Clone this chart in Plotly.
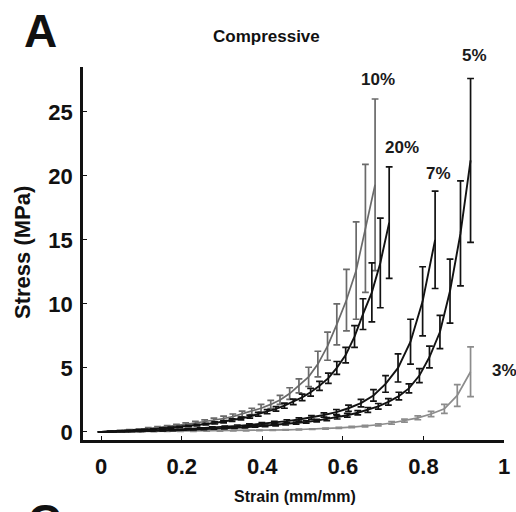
import plotly.graph_objects as go

# ---------------- data ----------------
strain_10 = [0, 0.023, 0.047, 0.070, 0.094, 0.117, 0.140, 0.164, 0.187, 0.210,
             0.234, 0.257, 0.280, 0.304, 0.327, 0.350, 0.374, 0.397, 0.421, 0.444,
             0.468, 0.491, 0.515, 0.538, 0.562, 0.585, 0.609, 0.633, 0.656, 0.680]
stress_10 = [0, 0.04, 0.09, 0.14, 0.2, 0.27, 0.34, 0.42, 0.5, 0.6,
             0.7, 0.8, 0.92, 1.05, 1.2, 1.4, 1.6, 1.85, 2.15, 2.5,
             3.0, 3.6, 4.3, 5.3, 6.7, 8.4, 10.3, 12.6, 15.9, 19.3]
err_10 = [0, 0.02, 0.03, 0.04, 0.05, 0.06, 0.07, 0.08, 0.09, 0.1,
          0.12, 0.14, 0.16, 0.18, 0.2, 0.22, 0.25, 0.3, 0.32, 0.35,
          0.45, 0.55, 0.75, 1.0, 1.1, 1.6, 2.4, 3.8, 5.0, 6.7]

strain_20 = [0, 0.022, 0.043, 0.065, 0.087, 0.108, 0.130, 0.152, 0.173, 0.195,
             0.217, 0.238, 0.260, 0.282, 0.304, 0.325, 0.347, 0.369, 0.390, 0.412,
             0.434, 0.455, 0.477, 0.499, 0.520, 0.542, 0.564, 0.585, 0.607, 0.629,
             0.650, 0.672, 0.693, 0.715]
stress_20 = [0, 0.03, 0.06, 0.09, 0.13, 0.17, 0.22, 0.27, 0.33, 0.39,
             0.46, 0.53, 0.61, 0.7, 0.8, 0.92, 1.05, 1.2, 1.38, 1.58,
             1.8, 2.05, 2.35, 2.7, 3.1, 3.6, 4.2, 5.0, 6.0, 7.45,
             9.2, 10.9, 13.2, 16.35]
err_20 = [0, 0.01, 0.01, 0.02, 0.02, 0.03, 0.03, 0.04, 0.04, 0.05,
          0.05, 0.06, 0.07, 0.08, 0.09, 0.1, 0.11, 0.12, 0.14, 0.16,
          0.18, 0.2, 0.22, 0.25, 0.3, 0.35, 0.4, 0.5, 0.6, 0.85,
          1.2, 2.3, 3.5, 4.35]

strain_7 = [0, 0.031, 0.061, 0.092, 0.123, 0.154, 0.184, 0.215, 0.246, 0.276,
            0.307, 0.338, 0.368, 0.399, 0.430, 0.461, 0.491, 0.522, 0.553, 0.584,
            0.614, 0.645, 0.676, 0.706, 0.737, 0.768, 0.798, 0.829]
stress_7 = [0, 0.02, 0.04, 0.07, 0.1, 0.14, 0.18, 0.23, 0.28, 0.34,
            0.4, 0.47, 0.55, 0.63, 0.73, 0.84, 0.97, 1.13, 1.32, 1.55,
            1.85, 2.25, 2.85, 3.75, 5.0, 7.05, 10.2, 15.0]
err_7 = [0, 0.01, 0.01, 0.02, 0.02, 0.03, 0.03, 0.04, 0.04, 0.05,
         0.06, 0.07, 0.08, 0.09, 0.1, 0.11, 0.13, 0.15, 0.17, 0.2,
         0.25, 0.3, 0.45, 0.65, 1.1, 1.75, 2.7, 3.8]

strain_5 = [0, 0.025, 0.051, 0.076, 0.102, 0.127, 0.153, 0.178, 0.204, 0.229,
            0.255, 0.280, 0.306, 0.331, 0.357, 0.382, 0.407, 0.433, 0.458, 0.484,
            0.509, 0.535, 0.560, 0.586, 0.611, 0.637, 0.662, 0.688, 0.713, 0.739,
            0.764, 0.790, 0.815, 0.841, 0.866, 0.892, 0.917]
stress_5 = [0, 0.01, 0.03, 0.04, 0.06, 0.08, 0.1, 0.12, 0.15, 0.18,
            0.21, 0.24, 0.28, 0.32, 0.37, 0.42, 0.48, 0.54, 0.61, 0.69,
            0.78, 0.88, 1.0, 1.14, 1.3, 1.5, 1.72, 2.0, 2.35, 2.8,
            3.4, 4.4, 5.85, 7.8, 11.0, 15.5, 21.2]
err_5 = [0, 0.01, 0.01, 0.01, 0.01, 0.01, 0.02, 0.02, 0.02, 0.03,
         0.03, 0.03, 0.04, 0.04, 0.05, 0.05, 0.06, 0.06, 0.07, 0.08,
         0.09, 0.1, 0.12, 0.13, 0.15, 0.17, 0.19, 0.22, 0.25, 0.3,
         0.35, 0.55, 0.85, 1.3, 2.5, 4.1, 6.4]

strain_3 = [0, 0.033, 0.066, 0.098, 0.131, 0.164, 0.197, 0.229, 0.262, 0.295,
            0.328, 0.360, 0.393, 0.426, 0.458, 0.491, 0.524, 0.557, 0.590, 0.622,
            0.655, 0.688, 0.721, 0.753, 0.786, 0.819, 0.852, 0.884, 0.917]
stress_3 = [0, 0.01, 0.02, 0.02, 0.03, 0.04, 0.05, 0.06, 0.07, 0.08,
            0.09, 0.1, 0.12, 0.14, 0.16, 0.19, 0.22, 0.26, 0.31, 0.38,
            0.46, 0.56, 0.7, 0.88, 1.1, 1.4, 1.8, 2.85, 4.7]
err_3 = [0, 0, 0, 0, 0, 0, 0, 0.01, 0.01, 0.01,
         0.01, 0.01, 0.02, 0.02, 0.02, 0.03, 0.03, 0.04, 0.04, 0.05,
         0.06, 0.08, 0.1, 0.12, 0.15, 0.2, 0.35, 0.85, 1.95]

x_tick_vals = [0, 0.2, 0.4, 0.6, 0.8, 1]
x_tick_text = ["0", "0.2", "0.4", "0.6", "0.8", "1"]
y_tick_vals = [0, 5, 10, 15, 20, 25]
y_tick_text = ["0", "5", "10", "15", "20", "25"]

# percentage tags: (text, strain, stress)
label_text = ["10%", "20%", "7%", "5%", "3%"]
label_x = [0.687, 0.748, 0.837, 0.926, 1.0]
label_y = [27.5, 22.2, 20.2, 29.4, 4.8]

# ---------------- figure ----------------
FONT = "Liberation Sans, Arial, sans-serif"
GRAY_DARK = "#6a6a6a"
GRAY_LIGHT = "#8c8c8c"
BLACK = "#121212"

W, H = 516, 512
ML, MR, MT, MB = 83, 12, 67, 72
pw, ph = W - ML - MR, H - MT - MB
X_RANGE = [-0.045, 1.0]
Y_RANGE = [-0.63, 28.5]

series = [
    (strain_3, stress_3, err_3, GRAY_LIGHT, 1.7),
    (strain_10, stress_10, err_10, GRAY_DARK, 1.7),
    (strain_20, stress_20, err_20, BLACK, 1.9),
    (strain_7, stress_7, err_7, BLACK, 1.9),
    (strain_5, stress_5, err_5, BLACK, 1.9),
]

fig = go.Figure()
for xs, ys, es, col, lw in series:
    fig.add_trace(go.Scatter(
        x=xs, y=ys, mode="lines",
        line=dict(color=col, width=lw),
        error_y=dict(type="data", array=es, visible=True,
                     color=col, thickness=1.7, width=3.4),
        showlegend=False,
    ))


def px_to_paper(px, py):
    return (px - ML) / pw, (H - MB - py) / ph


def data_y_to_paper(v):
    return (v - Y_RANGE[0]) / (Y_RANGE[1] - Y_RANGE[0])


def data_x_to_paper(v):
    return (v - X_RANGE[0]) / (X_RANGE[1] - X_RANGE[0])


for t, lx, ly in zip(label_text, label_x, label_y):
    fig.add_annotation(x=data_x_to_paper(lx), y=data_y_to_paper(ly),
                       xref="paper", yref="paper", text=t,
                       showarrow=False, xanchor="center", yanchor="middle",
                       font=dict(family=FONT, size=17, color="#1a1a1a", weight="bold"))

ax, ay = px_to_paper(40, 31)
fig.add_annotation(x=ax, y=ay, xref="paper", yref="paper", text="A",
                   showarrow=False, xanchor="center", yanchor="middle",
                   font=dict(family=FONT, size=46, color="#111", weight="bold"))
cx, cy = px_to_paper(44, 521)
fig.add_annotation(x=cx, y=cy, xref="paper", yref="paper", text="C",
                   showarrow=False, xanchor="center", yanchor="middle",
                   font=dict(family=FONT, size=46, color="#111", weight="bold"))
tx, ty = px_to_paper(266, 37)
fig.add_annotation(x=tx, y=ty, xref="paper", yref="paper", text="Compressive",
                   showarrow=False, xanchor="center", yanchor="middle",
                   font=dict(family=FONT, size=17, color="#111", weight="bold"))
xt, yt = px_to_paper(295, 496)
fig.add_annotation(x=xt, y=yt, xref="paper", yref="paper", text="Strain (mm/mm)",
                   showarrow=False, xanchor="center", yanchor="middle",
                   font=dict(family=FONT, size=16, color="#111", weight="bold"))
xs_, ys_ = px_to_paper(22, 252)
fig.add_annotation(x=xs_, y=ys_, xref="paper", yref="paper", text="Stress (MPa)",
                   showarrow=False, xanchor="center", yanchor="middle", textangle=-90,
                   font=dict(family=FONT, size=22, color="#111", weight="bold"))

fig.update_layout(
    width=W, height=H,
    margin=dict(l=ML, r=MR, t=MT, b=MB, pad=0, autoexpand=False),
    paper_bgcolor="white", plot_bgcolor="white",
    font=dict(family=FONT, color="#111"),
    xaxis=dict(
        range=X_RANGE, showgrid=False, zeroline=False, automargin=False,
        showline=True, linecolor="#111", linewidth=2.5,
        ticks="inside", ticklen=4, tickwidth=1.2, tickcolor="#111",
        tickvals=x_tick_vals, ticktext=x_tick_text,
        tickfont=dict(family=FONT, size=22, color="#111", weight="bold"),
        ticklabelstandoff=5,
    ),
    yaxis=dict(
        range=Y_RANGE, showgrid=False, zeroline=False, automargin=False,
        showline=True, linecolor="#111", linewidth=2.5,
        ticks="inside", ticklen=4, tickwidth=1.2, tickcolor="#111",
        tickvals=y_tick_vals, ticktext=y_tick_text,
        tickfont=dict(family=FONT, size=22, color="#111", weight="bold"),
        ticklabelstandoff=3,
    ),
)

fig.write_html(
    "out.html",
    config={"displayModeBar": False},
    post_script="document.body.style.margin='0';document.body.style.overflow='hidden';",
)
